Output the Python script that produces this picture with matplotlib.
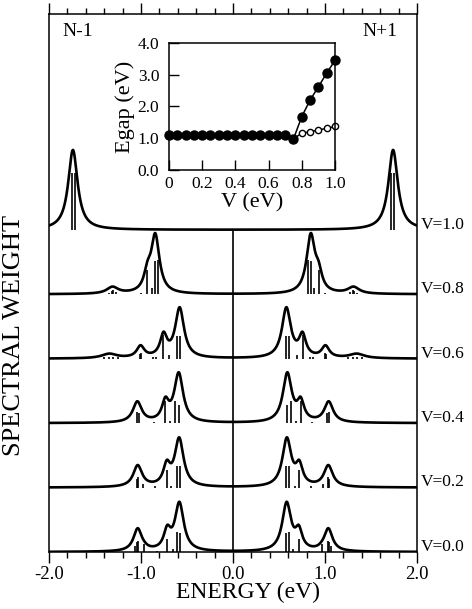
import numpy as np
import matplotlib.pyplot as plt
from matplotlib.ticker import MultipleLocator

plt.rcParams["font.family"] = ["Liberation Serif", "DejaVu Serif"]
plt.rcParams["axes.unicode_minus"] = False

# spectra, bottom to top; peaks/sticks given for E > 0, the spectrum is mirrored
V_LABELS = ["V=0.0", "V=0.2", "V=0.4", "V=0.6", "V=0.8", "V=1.0"]

PEAK_POS = [
    [0.583, 0.715, 0.965, 1.036],
    [0.585, 0.72, 1.036],
    [0.59, 0.735, 1.04],
    [0.58, 0.755, 1.005, 1.345],
    [0.845, 0.93, 1.31],
    [1.74],
]
PEAK_HEIGHT = [
    [0.78, 0.42, 0.17, 0.37],
    [0.78, 0.43, 0.35],
    [0.79, 0.41, 0.34],
    [0.80, 0.42, 0.21, 0.08],
    [0.95, 0.52, 0.12],
    [1.24],
]
PEAK_WIDTH = [
    [0.058, 0.045, 0.04, 0.055],
    [0.058, 0.045, 0.058],
    [0.058, 0.045, 0.058],
    [0.058, 0.045, 0.05, 0.1],
    [0.055, 0.045, 0.075],
    [0.062],
]
STICK_POS = [
    [0.573, 0.61, 0.655, 0.717, 0.83, 0.97, 1.03, 1.045, 1.06],
    [0.578, 0.61, 0.674, 0.72, 0.85, 0.98, 1.03, 1.045],
    [0.583, 0.625, 0.68, 0.74, 0.86, 1.02, 1.04],
    [0.573, 0.61, 0.70, 0.757, 0.84, 0.87, 0.995, 1.01, 1.25, 1.30, 1.35, 1.40],
    [0.82, 0.845, 0.875, 0.935, 1.0, 1.27, 1.30, 1.32, 1.35],
    [1.72, 1.755],
]
STICK_HEIGHT = [
    [0.30, 0.31, 0.04, 0.20, 0.02, 0.12, 0.17, 0.15, 0.10],
    [0.34, 0.34, 0.03, 0.28, 0.02, 0.06, 0.17, 0.14],
    [0.28, 0.34, 0.04, 0.34, 0.02, 0.15, 0.18],
    [0.36, 0.36, 0.05, 0.37, 0.02, 0.02, 0.09, 0.07, 0.02, 0.03, 0.03, 0.02],
    [0.53, 0.51, 0.10, 0.37, 0.02, 0.03, 0.07, 0.05, 0.02],
    [0.89, 0.89],
]

# inset: gap vs V
GAP_V = [0.0, 0.05, 0.1, 0.15, 0.2, 0.25, 0.3, 0.35, 0.4, 0.45, 0.5,
         0.55, 0.6, 0.65, 0.7, 0.75, 0.8, 0.85, 0.9, 0.95, 1.0]
GAP_FILLED = [1.1, 1.1, 1.1, 1.1, 1.1, 1.1, 1.1, 1.1, 1.1, 1.1, 1.1,
              1.1, 1.1, 1.1, 1.1, 0.98, 1.68, 2.2, 2.62, 3.05, 3.45]
GAP_OPEN = [1.1, 1.1, 1.1, 1.1, 1.1, 1.1, 1.1, 1.1, 1.1, 1.1, 1.1,
            1.1, 1.1, 1.1, 1.1, 0.98, 1.16, 1.2, 1.26, 1.31, 1.37]


def lorentz(x, x0, g):
    return g ** 2 / ((x - x0) ** 2 + g ** 2)


def spectrum(energy, pos, height, width):
    pos = np.asarray(pos, float)
    c = np.concatenate([-pos, pos])
    g = np.concatenate([width, width])
    h = np.concatenate([height, height])
    # amplitudes so that the curve passes through the read peak heights
    m = lorentz(c[:, None], c[None, :], g[None, :])
    amp = np.linalg.solve(m, h)
    return (amp * lorentz(energy[:, None], c[None, :], g[None, :])).sum(axis=1)


energy = np.linspace(-2.0, 2.0, 3001)

fig = plt.figure(figsize=(4.72, 6.09), dpi=100)
ax = fig.add_axes([0.1038, 0.0936, 0.7797, 0.8834])

for i, label in enumerate(V_LABELS):
    curve = spectrum(energy, PEAK_POS[i], PEAK_HEIGHT[i], PEAK_WIDTH[i])
    ax.plot(energy, i + curve, color="k", lw=1.9, solid_joinstyle="round")
    sp = np.asarray(STICK_POS[i])
    sh = np.asarray(STICK_HEIGHT[i])
    ax.vlines(np.concatenate([-sp, sp]), i, i + np.concatenate([sh, sh]),
              color="k", lw=1.2)
    ax.text(2.04, i + 0.08, label, fontsize=12.5, ha="left", va="center",
            clip_on=False)

ax.vlines(0.0, 0, len(V_LABELS) - 1, color="k", lw=1.2)

ax.text(-1.85, 8.08, "N-1", fontsize=14, ha="left", va="center")
ax.text(1.79, 8.08, "N+1", fontsize=14, ha="right", va="center")

ax.set_xlim(-2.0, 2.0)
ax.set_ylim(0, 8.35)
ax.set_xticks([-2, -1, 0, 1, 2])
ax.set_xticklabels(["-2.0", "-1.0", "0.0", "1.0", "2.0"], fontsize=13.5)
ax.xaxis.set_minor_locator(MultipleLocator(0.2))
ax.tick_params(axis="x", which="major", direction="out", length=8, width=1,
               top=True, pad=2)
ax.tick_params(axis="x", which="minor", direction="out", length=4, width=1,
               top=True)
ax.set_yticks([])
ax.set_xlabel("ENERGY (eV)", fontsize=17, labelpad=0)
ax.xaxis.set_label_coords(0.54, -0.055)
for s in ax.spines.values():
    s.set_linewidth(1.1)

fig.text(0.03, 0.45, "SPECTRAL WEIGHT", fontsize=19, rotation=90,
         ha="center", va="center")

# inset
axi = fig.add_axes([0.358, 0.7209, 0.3517, 0.2085])
axi.plot(GAP_V, GAP_OPEN, color="k", lw=1.1, marker="o", ms=4.5,
         mfc="white", mec="k", mew=1.0, clip_on=False)
axi.plot(GAP_V, GAP_FILLED, color="k", lw=1.1, marker="o", ms=6.5,
         mfc="k", mec="k", clip_on=False, zorder=3)
axi.set_xlim(0, 1.0)
axi.set_ylim(0, 4.0)
axi.set_xticks([0, 0.2, 0.4, 0.6, 0.8, 1.0])
axi.set_xticklabels(["0", "0.2", "0.4", "0.6", "0.8", "1.0"], fontsize=12.5)
axi.set_yticks([0, 1, 2, 3, 4])
axi.set_yticklabels(["0.0", "1.0", "2.0", "3.0", "4.0"], fontsize=12.5)
axi.tick_params(direction="in", length=7, width=1, pad=4)
axi.tick_params(axis="y", pad=7)
axi.set_xlabel("V (eV)", fontsize=16, labelpad=1)
axi.set_ylabel("Egap (eV)", fontsize=16, labelpad=2)
for s in axi.spines.values():
    s.set_linewidth(1.1)

fig.savefig("out.png", dpi=100)
plt.close(fig)
